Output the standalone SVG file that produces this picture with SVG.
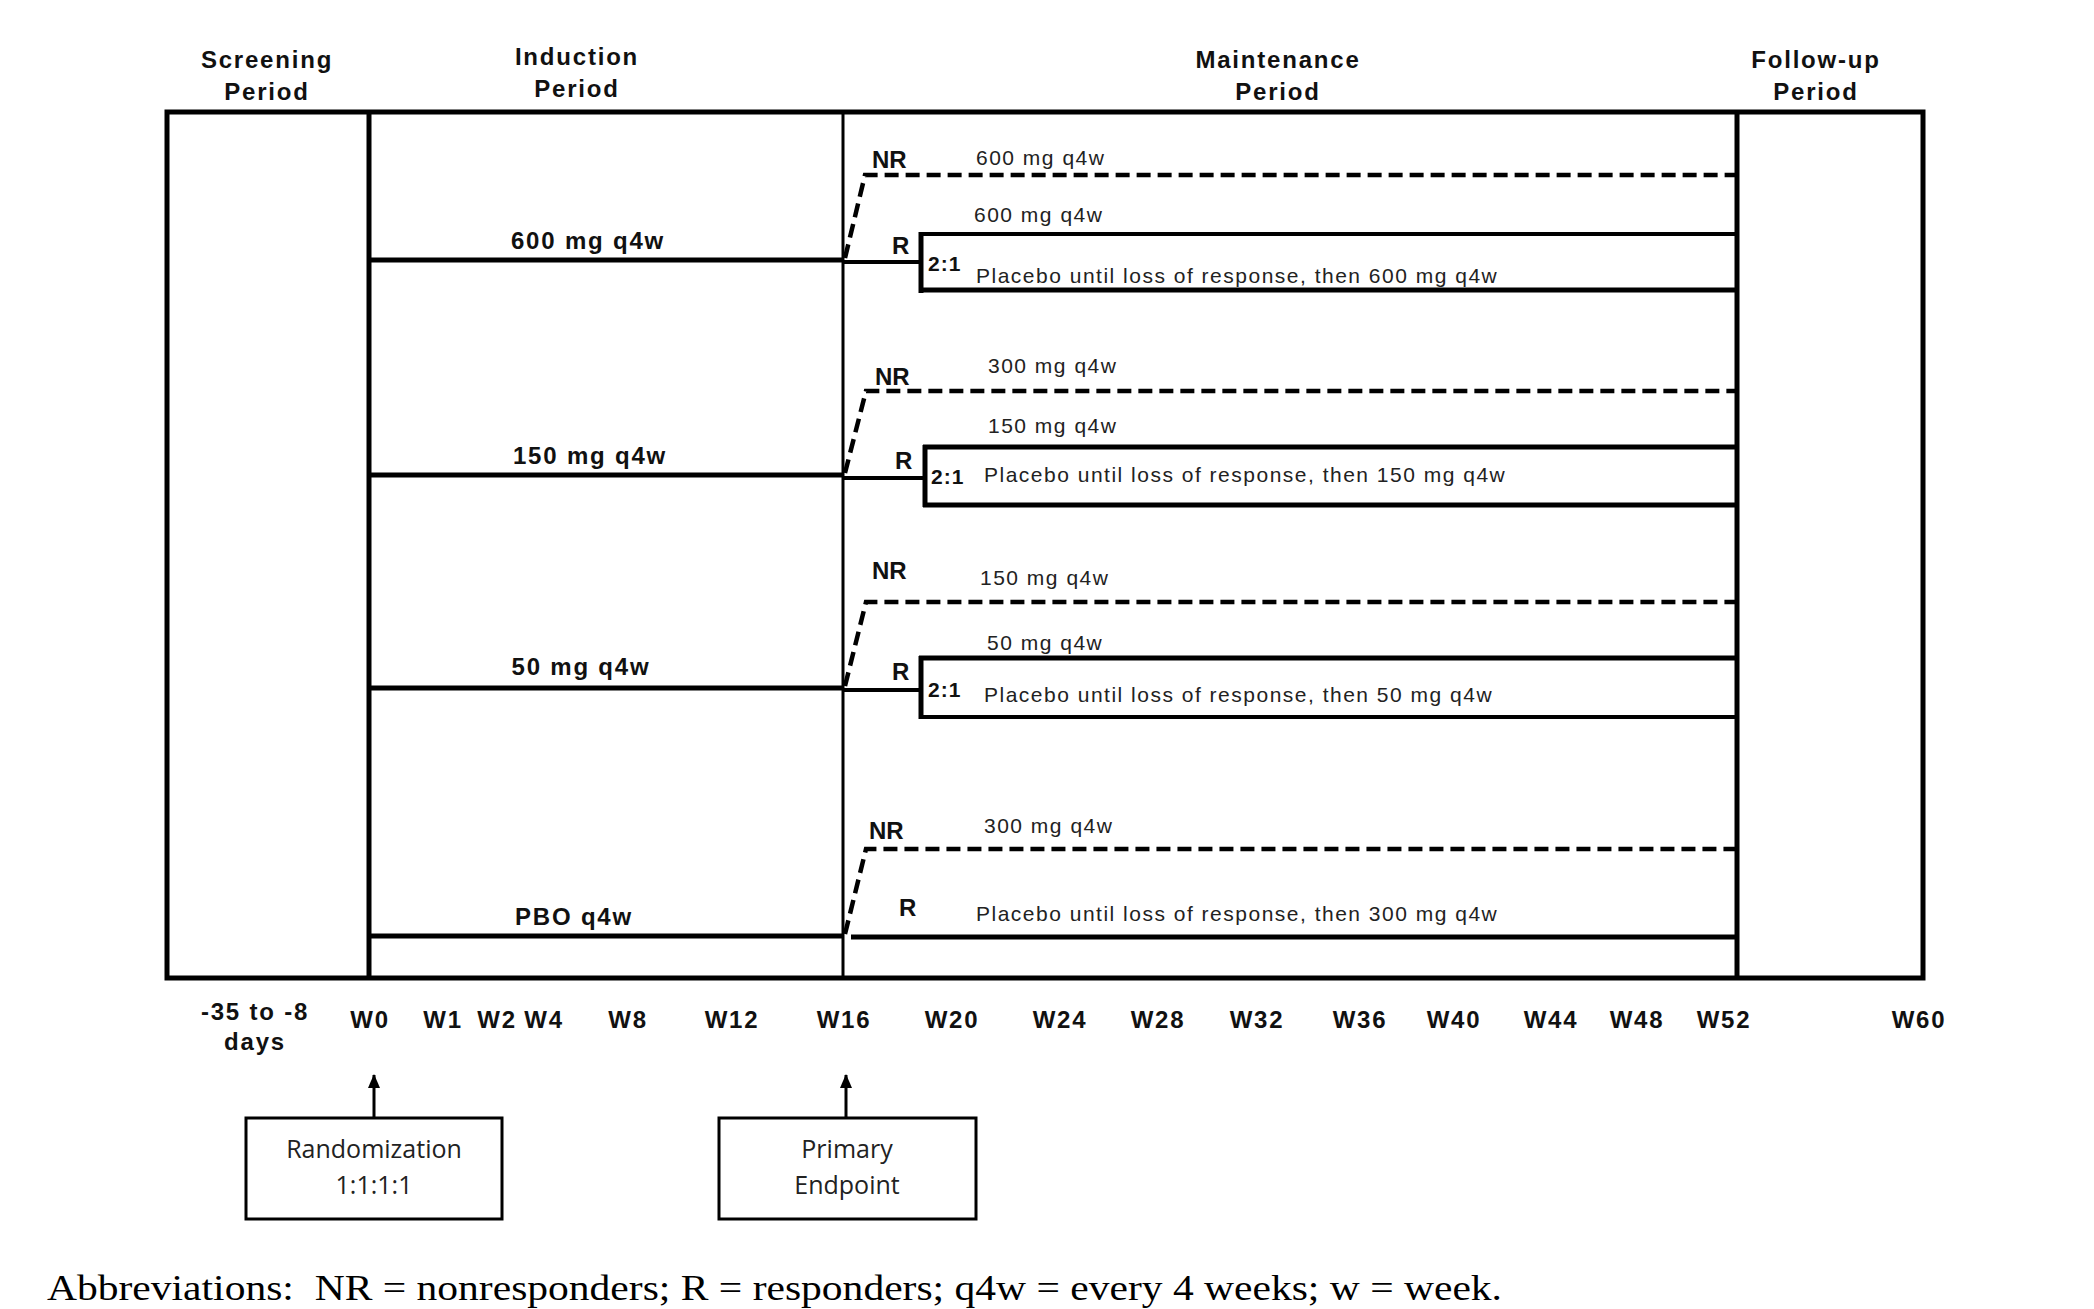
<svg xmlns="http://www.w3.org/2000/svg" width="2094" height="1309" viewBox="0 0 2094 1309">
<style>
.hdr{font-family:"Liberation Sans",Arial,sans-serif;font-size:24px;font-weight:bold;letter-spacing:1.8px;fill:#111;text-anchor:middle}
.arm{font-family:"Liberation Sans",Arial,sans-serif;font-size:24px;font-weight:bold;letter-spacing:1.8px;fill:#111;text-anchor:middle}
.tl{font-family:"Liberation Sans",Arial,sans-serif;font-size:24px;font-weight:bold;letter-spacing:1.8px;fill:#111;text-anchor:middle}
.sm{font-family:"Liberation Sans",Arial,sans-serif;font-size:21px;letter-spacing:1.5px;fill:#222}
.lb{font-family:"Liberation Sans",Arial,sans-serif;font-size:24px;font-weight:bold;fill:#111}
.rt{font-family:"Liberation Sans",Arial,sans-serif;font-size:21px;font-weight:bold;letter-spacing:1px;fill:#111}
.bx{font-family:"Open Sans","Liberation Sans",sans-serif;font-size:25px;fill:#222;text-anchor:middle}
.ab{font-family:"Liberation Serif","Times New Roman",serif;font-size:35px;fill:#000}
.ln{stroke:#000;fill:none}
.thick{stroke-width:5}
.med{stroke-width:4}
.thin{stroke-width:3}
.dash{stroke:#000;fill:none;stroke-width:4.5;stroke-dasharray:14 7}
.box{fill:#fff;stroke:#000;stroke-width:3}
</style>
<defs>
<marker id="ah" markerWidth="14" markerHeight="14" refX="13" refY="7" orient="auto" markerUnits="userSpaceOnUse" viewBox="0 0 14 14">
<path d="M0,1 L14,7 L0,13 z" fill="#000"/>
</marker>
</defs>
<rect width="2094" height="1309" fill="#fff"/>

<g id="frame">
<rect x="167" y="112" width="1756" height="866" class="ln thick"/>
<line x1="369" y1="112" x2="369" y2="978" class="ln thick"/>
<line x1="843" y1="112" x2="843" y2="978" class="ln thin"/>
<line x1="1737" y1="112" x2="1737" y2="978" class="ln thick"/>
</g>

<g id="headers">
<text class="hdr" x="267" y="68">Screening</text>
<text class="hdr" x="267" y="100">Period</text>
<text class="hdr" x="577" y="65">Induction</text>
<text class="hdr" x="577" y="97">Period</text>
<text class="hdr" x="1278" y="68">Maintenance</text>
<text class="hdr" x="1278" y="100">Period</text>
<text class="hdr" x="1816" y="68">Follow-up</text>
<text class="hdr" x="1816" y="100">Period</text>
</g>

<g id="arm-600">
<line x1="369" y1="260" x2="843" y2="260" class="ln thick"/>
<text class="arm" x="588" y="249">600 mg q4w</text>
<path d="M845,258 L865,175 L1735,175" class="dash"/>
<text class="lb" x="872" y="168">NR</text>
<text class="sm" x="976" y="165">600 mg q4w</text>
<line x1="843" y1="262" x2="921" y2="262" class="ln med"/>
<line x1="921" y1="232" x2="921" y2="293" class="ln thick"/>
<line x1="919" y1="234" x2="1737" y2="234" class="ln med"/>
<line x1="919" y1="290" x2="1737" y2="290" class="ln thick"/>
<text class="sm" x="974" y="222">600 mg q4w</text>
<text class="lb" x="892" y="254">R</text>
<text class="rt" x="928" y="271">2:1</text>
<text class="sm" x="976" y="283">Placebo until loss of response, then 600 mg q4w</text>
</g>

<g id="arm-150">
<line x1="369" y1="475" x2="843" y2="475" class="ln thick"/>
<text class="arm" x="590" y="464">150 mg q4w</text>
<path d="M845,473 L866,391 L1735,391" class="dash"/>
<text class="lb" x="875" y="385">NR</text>
<text class="sm" x="988" y="373">300 mg q4w</text>
<line x1="843" y1="478" x2="925" y2="478" class="ln med"/>
<line x1="925" y1="445" x2="925" y2="507" class="ln thick"/>
<line x1="923" y1="447" x2="1737" y2="447" class="ln thick"/>
<line x1="923" y1="505" x2="1737" y2="505" class="ln thick"/>
<text class="sm" x="988" y="433">150 mg q4w</text>
<text class="lb" x="895" y="469">R</text>
<text class="rt" x="931" y="484">2:1</text>
<text class="sm" x="984" y="482">Placebo until loss of response, then 150 mg q4w</text>
</g>

<g id="arm-50">
<line x1="369" y1="688" x2="843" y2="688" class="ln thick"/>
<text class="arm" x="581" y="675">50 mg q4w</text>
<path d="M845,686 L866,602 L1735,602" class="dash"/>
<text class="lb" x="872" y="579">NR</text>
<text class="sm" x="980" y="585">150 mg q4w</text>
<line x1="843" y1="690" x2="921" y2="690" class="ln med"/>
<line x1="921" y1="656" x2="921" y2="719" class="ln thick"/>
<line x1="919" y1="658" x2="1737" y2="658" class="ln thick"/>
<line x1="919" y1="717" x2="1737" y2="717" class="ln med"/>
<text class="sm" x="987" y="650">50 mg q4w</text>
<text class="lb" x="892" y="680">R</text>
<text class="rt" x="928" y="697">2:1</text>
<text class="sm" x="984" y="702">Placebo until loss of response, then 50 mg q4w</text>
</g>

<g id="arm-pbo">
<line x1="369" y1="936" x2="843" y2="936" class="ln thick"/>
<text class="arm" x="574" y="925">PBO q4w</text>
<path d="M845,934 L866,849 L1735,849" class="dash"/>
<text class="lb" x="869" y="839">NR</text>
<text class="sm" x="984" y="833">300 mg q4w</text>
<line x1="851" y1="937" x2="1737" y2="937" class="ln thick"/>
<text class="lb" x="899" y="916">R</text>
<text class="sm" x="976" y="921">Placebo until loss of response, then 300 mg q4w</text>
</g>

<g id="timeline">
<text class="tl" x="255" y="1020">-35 to -8</text>
<text class="tl" x="255" y="1050">days</text>
<text class="tl" x="370" y="1028">W0</text>
<text class="tl" x="443" y="1028">W1</text>
<text class="tl" x="497" y="1028">W2</text>
<text class="tl" x="544" y="1028">W4</text>
<text class="tl" x="628" y="1028">W8</text>
<text class="tl" x="732" y="1028">W12</text>
<text class="tl" x="844" y="1028">W16</text>
<text class="tl" x="952" y="1028">W20</text>
<text class="tl" x="1060" y="1028">W24</text>
<text class="tl" x="1158" y="1028">W28</text>
<text class="tl" x="1257" y="1028">W32</text>
<text class="tl" x="1360" y="1028">W36</text>
<text class="tl" x="1454" y="1028">W40</text>
<text class="tl" x="1551" y="1028">W44</text>
<text class="tl" x="1637" y="1028">W48</text>
<text class="tl" x="1724" y="1028">W52</text>
<text class="tl" x="1919" y="1028">W60</text>
</g>

<g id="randomization">
<rect x="246" y="1118" width="256" height="101" class="box"/>
<text class="bx" x="374" y="1158">Randomization</text>
<text class="bx" x="374" y="1194">1:1:1:1</text>
</g>

<g id="primary-endpoint">
<rect x="719" y="1118" width="257" height="101" class="box"/>
<text class="bx" x="847" y="1158">Primary</text>
<text class="bx" x="847" y="1194">Endpoint</text>
</g>

<g id="connectors">
<line x1="374" y1="1118" x2="374" y2="1075" stroke="#000" stroke-width="3" marker-end="url(#ah)"/>
<line x1="846" y1="1118" x2="846" y2="1075" stroke="#000" stroke-width="3" marker-end="url(#ah)"/>
</g>

<g id="abbreviations">
<text class="ab" x="47" y="1300" textLength="1455" lengthAdjust="spacingAndGlyphs">Abbreviations:&#160; NR = nonresponders; R = responders; q4w = every 4 weeks; w = week.</text>
</g>
</svg>
